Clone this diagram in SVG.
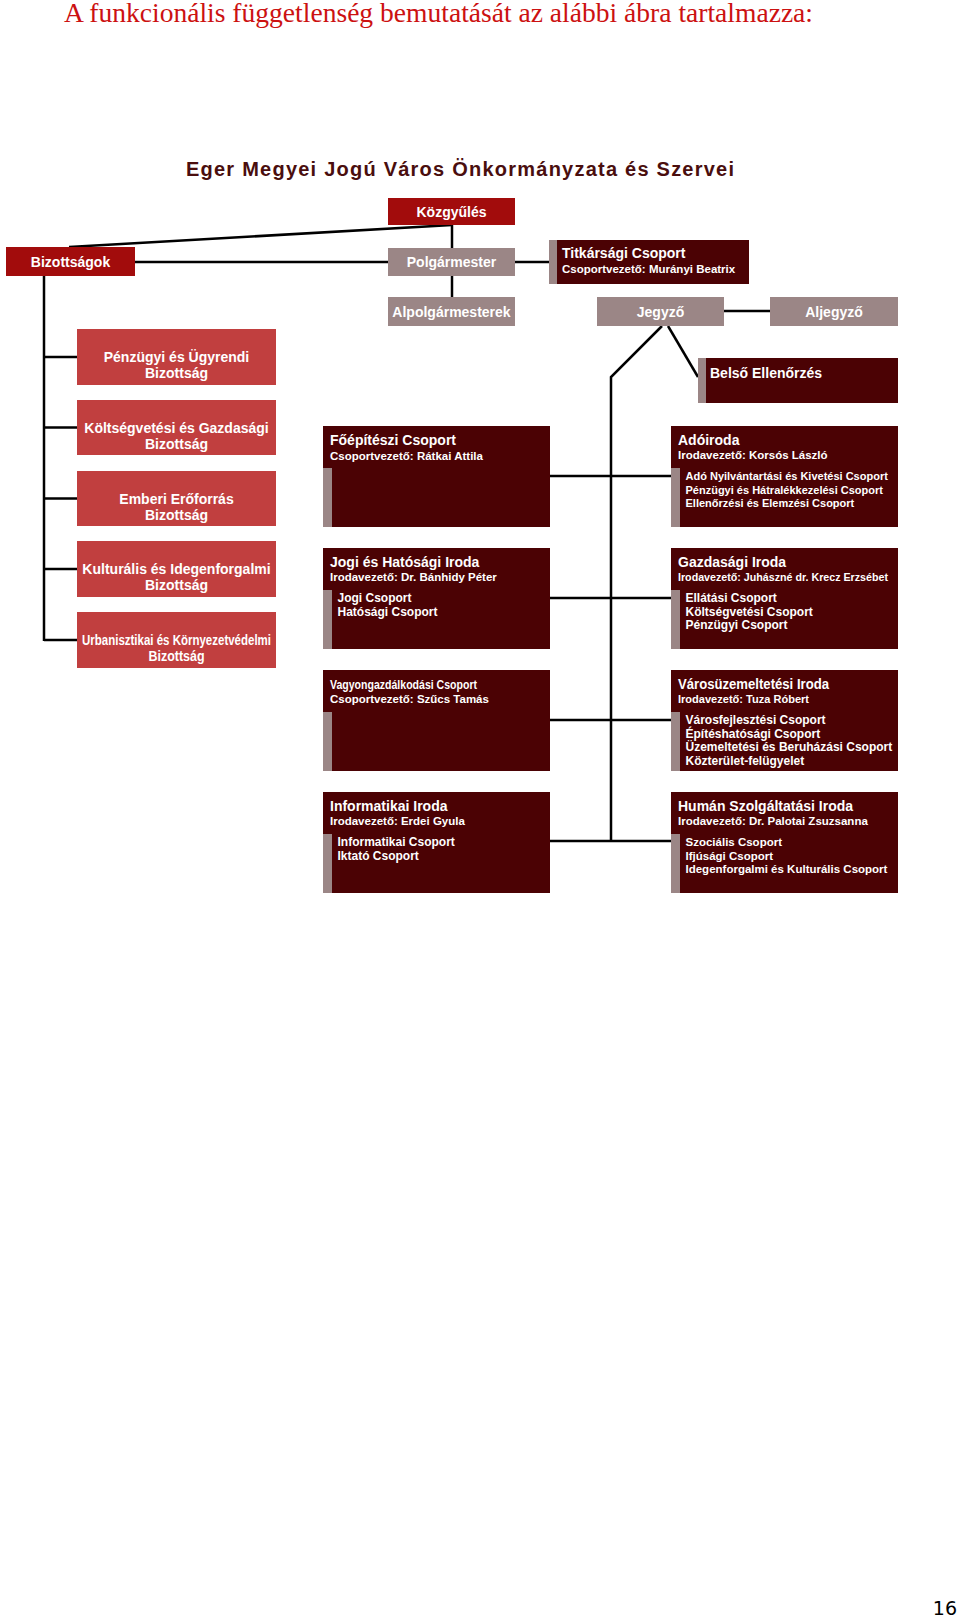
<svg xmlns="http://www.w3.org/2000/svg" width="960" height="1619" viewBox="0 0 960 1619">
<style>
.bg{fill:#ffffff}
.ln{stroke:#000;stroke-width:2.5;fill:none}
.kz{fill:#a20c0c}
.gr{fill:#9b8686}
.dk{fill:#4b0204}
.st{fill:#9b8686}
.cm{fill:#c13f3f}
.t{font-family:"Liberation Sans",Arial,sans-serif;font-weight:bold;fill:#fff}
.c{text-anchor:middle;font-size:14px}
.h{font-size:14px}
.s{font-size:11.5px}
.i{font-size:11.5px}
.i11{font-size:11px}
.i12{font-size:12px}
</style>
<rect class="bg" x="0" y="0" width="960" height="1619"/>
<text x="64" y="22" font-family="Liberation Serif,'Times New Roman',serif" font-size="27.5" fill="#cc1111" textLength="749" lengthAdjust="spacingAndGlyphs">A funkcionális függetlenség bemutatását az alábbi ábra tartalmazza:</text>
<text x="186" y="176" font-family="Liberation Sans,Arial,sans-serif" font-weight="bold" font-size="20" fill="#4a0e0e" textLength="548" lengthAdjust="spacing">Eger Megyei Jogú Város Önkormányzata és Szervei</text>

<g id="connectors">
<line class="ln" x1="452" y1="225" x2="452" y2="248"/>
<line class="ln" x1="452" y1="276" x2="452" y2="297"/>
<polyline class="ln" points="452,225 69,247"/>
<line class="ln" x1="135" y1="262" x2="388" y2="262"/>
<line class="ln" x1="515" y1="262" x2="549" y2="262"/>
<line class="ln" x1="724" y1="311" x2="770" y2="311"/>
<line class="ln" x1="44" y1="276" x2="44" y2="641"/>
<line class="ln" x1="44" y1="357" x2="77" y2="357"/>
<line class="ln" x1="44" y1="427.5" x2="77" y2="427.5"/>
<line class="ln" x1="44" y1="498.5" x2="77" y2="498.5"/>
<line class="ln" x1="44" y1="569" x2="77" y2="569"/>
<line class="ln" x1="44" y1="640" x2="77" y2="640"/>
<polyline class="ln" points="662,326 611,377 611,841"/>
<line class="ln" x1="668" y1="326" x2="698" y2="377"/>
<line class="ln" x1="550" y1="476" x2="671" y2="476"/>
<line class="ln" x1="550" y1="598" x2="671" y2="598"/>
<line class="ln" x1="550" y1="720" x2="671" y2="720"/>
<line class="ln" x1="550" y1="841" x2="671" y2="841"/>
</g>

<g id="kozgyules"><rect class="kz" x="388" y="198" width="127" height="27"/><text class="t c" x="451.5" y="216.5">Közgyűlés</text></g>
<g id="polgarmester"><rect class="gr" x="388" y="248" width="127" height="28"/><text class="t c" x="451.5" y="267">Polgármester</text></g>
<g id="alpolgarmesterek"><rect class="gr" x="388" y="297" width="127" height="29"/><text class="t c" x="451.5" y="316.5">Alpolgármesterek</text></g>
<g id="bizottsagok"><rect class="kz" x="6" y="247" width="129" height="29"/><text class="t c" x="70.5" y="266.5">Bizottságok</text></g>
<g id="titkarsagi"><rect class="dk" x="549" y="240" width="200" height="44"/><rect class="st" x="549" y="240" width="8" height="44"/>
<text class="t h" x="562" y="258">Titkársági Csoport</text><text class="t s" x="562" y="273">Csoportvezető: Murányi Beatrix</text></g>
<g id="jegyzo"><rect class="gr" x="597" y="297" width="127" height="29"/><text class="t c" x="660.5" y="316.5">Jegyző</text></g>
<g id="aljegyzo"><rect class="gr" x="770" y="297" width="128" height="29"/><text class="t c" x="834" y="316.5">Aljegyző</text></g>
<g id="belso"><rect class="dk" x="698" y="358" width="200" height="45"/><rect class="st" x="698" y="358" width="8" height="45"/>
<text class="t h" x="710" y="378">Belső Ellenőrzés</text></g>

<g id="biz1"><rect class="cm" x="77" y="329" width="199" height="56"/><text class="t c" x="176.5" y="362">Pénzügyi és Ügyrendi</text><text class="t c" x="176.5" y="378">Bizottság</text></g>
<g id="biz2"><rect class="cm" x="77" y="400" width="199" height="55"/><text class="t c" x="176.5" y="432.5">Költségvetési és Gazdasági</text><text class="t c" x="176.5" y="448.5">Bizottság</text></g>
<g id="biz3"><rect class="cm" x="77" y="471" width="199" height="55"/><text class="t c" x="176.5" y="503.5">Emberi Erőforrás</text><text class="t c" x="176.5" y="519.5">Bizottság</text></g>
<g id="biz4"><rect class="cm" x="77" y="541" width="199" height="56"/><text class="t c" x="176.5" y="574">Kulturális és Idegenforgalmi</text><text class="t c" x="176.5" y="590">Bizottság</text></g>
<g id="biz5"><rect class="cm" x="77" y="612" width="199" height="56"/><text class="t c" x="176.5" y="645" textLength="189" lengthAdjust="spacingAndGlyphs">Urbanisztikai és Környezetvédelmi</text><text class="t c" x="176.5" y="661" textLength="56" lengthAdjust="spacingAndGlyphs">Bizottság</text></g>

<g id="foepiteszi"><rect class="dk" x="323" y="426" width="227" height="101"/><rect class="st" x="323" y="468" width="9" height="59"/>
<text class="t h" x="330" y="445">Főépítészi Csoport</text><text class="t s" x="330" y="460">Csoportvezető: Rátkai Attila</text></g>
<g id="adoiroda"><rect class="dk" x="671" y="426" width="227" height="101"/><rect class="st" x="671" y="468" width="9" height="59"/>
<text class="t h" x="678" y="445">Adóiroda</text><text class="t s" x="678" y="459">Irodavezető: Korsós László</text>
<text class="t i11" x="685.5" y="480">Adó Nyilvántartási és Kivetési Csoport</text><text class="t i11" x="685.5" y="493.5">Pénzügyi és Hátralékkezelési Csoport</text><text class="t i11" x="685.5" y="507">Ellenőrzési és Elemzési Csoport</text></g>

<g id="jogi"><rect class="dk" x="323" y="548" width="227" height="101"/><rect class="st" x="323" y="590" width="9" height="59"/>
<text class="t h" x="330" y="567">Jogi és Hatósági Iroda</text><text class="t s" x="330" y="581">Irodavezető: Dr. Bánhidy Péter</text>
<text class="t i12" x="337.5" y="602">Jogi Csoport</text><text class="t i12" x="337.5" y="615.5">Hatósági Csoport</text></g>
<g id="gazdasagi"><rect class="dk" x="671" y="548" width="227" height="101"/><rect class="st" x="671" y="590" width="9" height="59"/>
<text class="t h" x="678" y="567">Gazdasági Iroda</text><text class="t s" x="678" y="581" textLength="210" lengthAdjust="spacingAndGlyphs">Irodavezető: Juhászné dr. Krecz Erzsébet</text>
<text class="t i12" x="685.5" y="602">Ellátási Csoport</text><text class="t i12" x="685.5" y="615.5">Költségvetési Csoport</text><text class="t i12" x="685.5" y="629">Pénzügyi Csoport</text></g>

<g id="vagyon"><rect class="dk" x="323" y="670" width="227" height="101"/><rect class="st" x="323" y="712" width="9" height="59"/>
<text class="t" font-size="13" x="330" y="689" textLength="147" lengthAdjust="spacingAndGlyphs">Vagyongazdálkodási Csoport</text><text class="t s" x="330" y="703">Csoportvezető: Szűcs Tamás</text></g>
<g id="varosuzem"><rect class="dk" x="671" y="670" width="227" height="101"/><rect class="st" x="671" y="712" width="9" height="59"/>
<text class="t h" x="678" y="689" textLength="151" lengthAdjust="spacingAndGlyphs">Városüzemeltetési Iroda</text><text class="t s" x="678" y="703" textLength="131" lengthAdjust="spacingAndGlyphs">Irodavezető: Tuza Róbert</text>
<text class="t i12" x="685.5" y="724">Városfejlesztési Csoport</text><text class="t i12" x="685.5" y="737.5">Építéshatósági Csoport</text><text class="t i12" x="685.5" y="751">Üzemeltetési és Beruházási Csoport</text><text class="t i12" x="685.5" y="764.5">Közterület-felügyelet</text></g>

<g id="informatikai"><rect class="dk" x="323" y="792" width="227" height="101"/><rect class="st" x="323" y="834" width="9" height="59"/>
<text class="t h" x="330" y="811">Informatikai Iroda</text><text class="t s" x="330" y="825">Irodavezető: Erdei Gyula</text>
<text class="t i12" x="337.5" y="846">Informatikai Csoport</text><text class="t i12" x="337.5" y="859.5">Iktató Csoport</text></g>
<g id="human"><rect class="dk" x="671" y="792" width="227" height="101"/><rect class="st" x="671" y="834" width="9" height="59"/>
<text class="t h" x="678" y="811">Humán Szolgáltatási Iroda</text><text class="t s" x="678" y="825">Irodavezető: Dr. Palotai Zsuzsanna</text>
<text class="t i" x="685.5" y="846">Szociális Csoport</text><text class="t i" x="685.5" y="859.5">Ifjúsági Csoport</text><text class="t i" x="685.5" y="873">Idegenforgalmi és Kulturális Csoport</text></g>

<text x="957" y="1615" text-anchor="end" font-family="DejaVu Sans,Verdana,sans-serif" font-size="19" fill="#000">16</text>
</svg>
